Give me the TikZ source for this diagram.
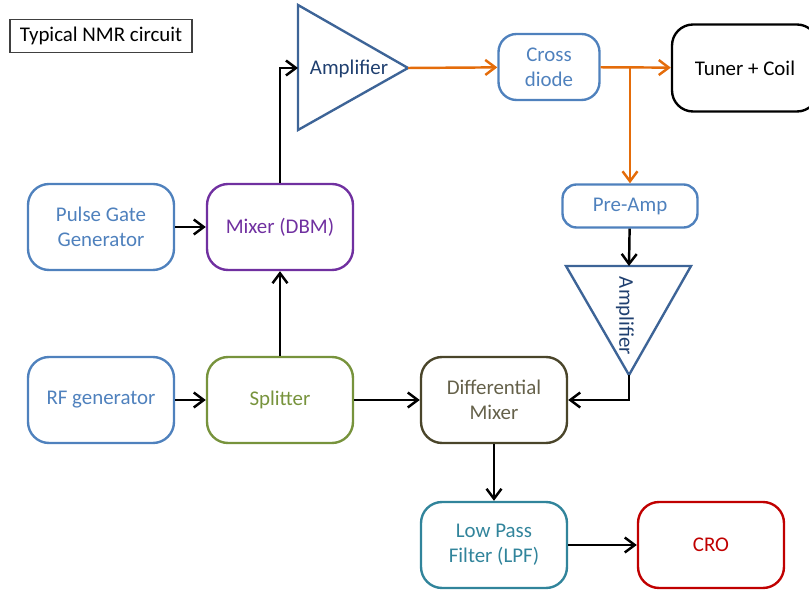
\documentclass[tikz,border=0pt]{standalone}
\usepackage{fontspec}
\setmainfont{Carlito}
\usetikzlibrary{arrows.meta}

\definecolor{genblue}{HTML}{4F81BD}
\definecolor{ampline}{HTML}{3D6497}
\definecolor{amptext}{HTML}{1F3F6F}
\definecolor{mixpurple}{HTML}{7030A0}
\definecolor{splitgreen}{HTML}{77933C}
\definecolor{diffolive}{HTML}{4A452A}
\definecolor{lpfteal}{HTML}{31849B}
\definecolor{crored}{HTML}{C00000}
\definecolor{sigorange}{HTML}{E46C0A}

\newcommand{\boxfont}{\fontsize{11.9}{14.2}\selectfont}

\begin{document}
\begin{tikzpicture}[x=0.02cm,y=-0.02cm]
      \tikzstyle{box} = [draw, rectangle, rounded corners=0.42cm,
                         line width=1.35pt, minimum width=2.92cm,
                         minimum height=1.72cm, align=center,
                         font=\boxfont]
      \tikzstyle{boxblue} = [box, draw=genblue, text=genblue]
      \tikzstyle{boxsmall} = [boxblue, minimum width=2.02cm,
                              minimum height=1.32cm, rounded corners=0.36cm]
      \tikzstyle{amp} = [draw=ampline, line width=1.35pt]
      \tikzstyle{amplabel} = [text=amptext, font=\boxfont]
      \tikzstyle{wire} = [line width=1.4pt,
                          -{Straight Barb[length=0.2cm, width=0.3cm]}]
      \tikzstyle{wireorange} = [wire, draw=sigorange]

      \useasboundingbox (0,0) rectangle (809,591);

      \node[draw=black!75, line width=0.6pt, minimum width=3.64cm,
            minimum height=0.66cm, font=\boxfont] (title) at (101,36)
            {Typical NMR circuit};

      % signal generation
      \node[boxblue] (pulse) at (101,227) {Pulse Gate\\Generator};
      \node[boxblue] (rf) at (101,400) {RF generator};
      \node[box, draw=mixpurple, text=mixpurple] (dbm) at (280,227) {Mixer (DBM)};
      \node[box, draw=splitgreen, text=splitgreen] (split) at (280,400) {Splitter};

      % transmit amplifier
      \coordinate (amp1in) at (298,68);
      \coordinate (amp1out) at (408,68);
      \draw[amp] (298,5) -- (amp1out) -- (298,130) -- cycle;
      \node[amplabel] (amp1) at (349,69) {Amplifier};

      \node[boxsmall] (diode) at (549,67) {Cross\\diode};
      \node[box, draw=black, minimum height=1.74cm] (coil) at (745,68) {Tuner + Coil};
      \coordinate (tap) at (630,67);

      % receive side
      \node[boxblue, minimum width=2.7cm, minimum height=0.86cm,
            rounded corners=0.28cm] (preamp) at (630,206) {Pre-Amp};
      \coordinate (amp2in) at (629,266);
      \coordinate (amp2out) at (629,375);
      \draw[amp] (566,266) -- (691,266) -- (amp2out) -- cycle;
      \node[amplabel, rotate=-90] (amp2) at (625,316) {Amplifier};

      \node[box, draw=diffolive, text=diffolive!85] (diff) at (494,400) {Differential\\Mixer};
      \node[box, draw=lpfteal, text=lpfteal] (lpf) at (494,545) {Low Pass\\Filter (LPF)};
      \node[box, draw=crored, text=crored] (cro) at (711,545) {CRO};

      \draw[wire] (pulse) -- (dbm);
      \draw[wire] (rf) -- (split);
      \draw[wire] (split) -- (dbm);
      \draw[wire] (dbm.north) |- (amp1in);
      \draw[wireorange] (amp1out) -- (diode);
      \draw[wireorange] (diode) -- (coil);
      \draw[wireorange] (tap) -- (preamp);
      \draw[wire] (preamp) -- (amp2in);
      \draw[wire] (amp2out) |- (diff.east);
      \draw[wire] (split) -- (diff);
      \draw[wire] (diff) -- (lpf);
      \draw[wire] (lpf) -- (cro);
    \end{tikzpicture}
\end{document}
